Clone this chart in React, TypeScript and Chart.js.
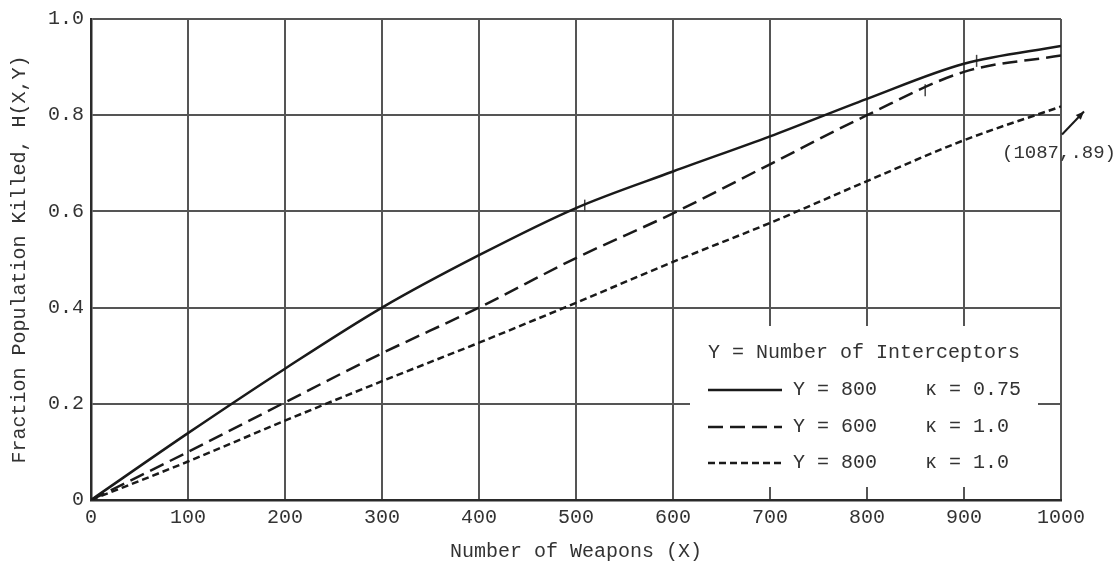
import { useEffect, useRef } from "react";
import { Chart, registerables } from "chart.js";

Chart.register(...registerables);

// ---- data ----
const weapons = [0, 100, 200, 300, 400, 500, 600, 700, 800, 900, 1000];
const killedY800k075 = [0, 0.139, 0.273, 0.4, 0.509, 0.607, 0.683, 0.756, 0.834, 0.907, 0.944];
const killedY600k10 = [0, 0.1, 0.203, 0.305, 0.4, 0.503, 0.596, 0.698, 0.8, 0.89, 0.924];
const killedY800k10 = [0, 0.08, 0.165, 0.247, 0.327, 0.41, 0.495, 0.576, 0.663, 0.748, 0.818];
const seriesLabels = ["Y = 800", "Y = 600", "Y = 800"];
const kappaLabels = ["\u03ba = 0.75", "\u03ba = 1.0", "\u03ba = 1.0"];
const seriesDash: number[][] = [[], [15, 7], [7, 4]];
const legendTitle = "Y = Number of Interceptors";
const xTitle = "Number of Weapons (X)";
const yTitle = "Fraction Population Killed, H(X,Y)";
const markX = [509, 860, 913];
const markY = [0.612, 0.852, 0.913];
const noteText = "(1087,.89)";
const xTicks = [0, 100, 200, 300, 400, 500, 600, 700, 800, 900, 1000];
const yTicks = [0, 0.2, 0.4, 0.6, 0.8, 1.0];

const FONT = "'Liberation Mono', 'DejaVu Sans Mono', monospace";
const INK = "#1a1a1a";
const TEXT = "#333333";
const GRID = "#555555";

const overlayPlugin = {
  id: "overlay",
  afterDraw(chart: any) {
    const { ctx, chartArea, scales } = chart;
    const xs = scales.x;
    const ys = scales.y;
    ctx.save();
    // legend box (covers the grid)
    const right = chartArea.right - 23;
    const bottom = chartArea.bottom - 13;
    const w = 348;
    const h = 161;
    const left = right - w;
    const top = bottom - h;
    ctx.fillStyle = "#ffffff";
    ctx.fillRect(left, top, w, h);
    ctx.font = `20px ${FONT}`;
    ctx.fillStyle = TEXT;
    ctx.textBaseline = "middle";
    ctx.textAlign = "left";
    ctx.fillText(legendTitle, left + 18, top + 27);
    const rowY = [top + 64, top + 101, top + 137];
    for (let i = 0; i < seriesLabels.length; i++) {
      ctx.strokeStyle = INK;
      ctx.lineWidth = 2.5;
      ctx.setLineDash(seriesDash[i]);
      ctx.beginPath();
      ctx.moveTo(left + 18, rowY[i]);
      ctx.lineTo(left + 92, rowY[i]);
      ctx.stroke();
      ctx.setLineDash([]);
      ctx.fillText(seriesLabels[i], left + 103, rowY[i]);
      ctx.fillText(kappaLabels[i], left + 235, rowY[i]);
    }
    // off-scale note with arrow
    const ax = xs.getPixelForValue(1000) + 1;
    const ay = ys.getPixelForValue(0.76);
    const bx = ax + 22;
    const by = ay - 23;
    ctx.strokeStyle = INK;
    ctx.lineWidth = 2;
    ctx.beginPath();
    ctx.moveTo(ax, ay);
    ctx.lineTo(bx, by);
    ctx.stroke();
    const ang = Math.atan2(by - ay, bx - ax);
    ctx.fillStyle = INK;
    ctx.beginPath();
    ctx.moveTo(bx, by);
    ctx.lineTo(bx - 9 * Math.cos(ang - 0.4), by - 9 * Math.sin(ang - 0.4));
    ctx.lineTo(bx - 9 * Math.cos(ang + 0.4), by - 9 * Math.sin(ang + 0.4));
    ctx.closePath();
    ctx.fill();
    ctx.fillStyle = TEXT;
    ctx.textAlign = "center";
    ctx.font = `19px ${FONT}`;
    ctx.fillText(noteText, ax - 3, ay + 19);
    ctx.restore();
  },
};

export default function App() {
  const ref = useRef<HTMLCanvasElement | null>(null);
  useEffect(() => {
    document.body.style.margin = "0";
    const canvas = ref.current;
    if (!canvas) return;
    const mk = (vals: number[]) => weapons.map((x, i) => ({ x, y: vals[i] }));
    const chart = new Chart(canvas, {
      type: "line",
      data: {
        datasets: [
          {
            label: seriesLabels[0],
            data: mk(killedY800k075),
            borderColor: INK,
            borderWidth: 2.5,
            borderDash: seriesDash[0],
            pointRadius: 0,
            cubicInterpolationMode: "monotone",
          },
          {
            label: seriesLabels[1],
            data: mk(killedY600k10),
            borderColor: INK,
            borderWidth: 2.5,
            borderDash: seriesDash[1],
            pointRadius: 0,
            cubicInterpolationMode: "monotone",
          },
          {
            label: seriesLabels[2],
            data: mk(killedY800k10),
            borderColor: INK,
            borderWidth: 2.5,
            borderDash: seriesDash[2],
            pointRadius: 0,
            cubicInterpolationMode: "monotone",
          },
          {
            label: "marks",
            data: markX.map((x, i) => ({ x, y: markY[i] })),
            showLine: false,
            pointStyle: "line",
            rotation: 90,
            pointRadius: 6,
            pointBorderWidth: 1.5,
            pointBorderColor: "#444",
            borderColor: "#444",
          } as any,
        ],
      },
      options: {
        responsive: false,
        animation: false,
        layout: { padding: { left: 0, top: 17, right: 58, bottom: 0 } },
        plugins: { legend: { display: false }, tooltip: { enabled: false } },
        scales: {
          x: {
            type: "linear",
            min: 0,
            max: 1000,
            afterBuildTicks: (s: any) => {
              s.ticks = xTicks.map((v) => ({ value: v }));
            },
            afterFit: (s: any) => {
              s.height = 66;
            },
            grid: { color: GRID, lineWidth: 2, drawTicks: false },
            border: { color: "#2a2a2a", width: 2.5 },
            ticks: {
              padding: 6,
              color: TEXT,
              font: { family: FONT, size: 20 },
              maxRotation: 0,
              callback: (v: any) => String(v),
            },
            title: {
              display: true,
              text: xTitle,
              color: TEXT,
              font: { family: FONT, size: 20 },
              padding: { top: 0, bottom: 2 },
            },
          },
          y: {
            type: "linear",
            min: 0,
            max: 1,
            afterBuildTicks: (s: any) => {
              s.ticks = yTicks.map((v) => ({ value: v }));
            },
            afterFit: (s: any) => {
              s.width = 91;
            },
            grid: { color: GRID, lineWidth: 2, drawTicks: false },
            border: { color: "#2a2a2a", width: 2.5 },
            ticks: {
              padding: 7,
              color: TEXT,
              font: { family: FONT, size: 20 },
              callback: (v: any) => (v === 0 ? "0" : Number(v).toFixed(1)),
            },
            title: {
              display: true,
              text: yTitle,
              color: TEXT,
              font: { family: FONT, size: 20 },
              padding: { top: 8, bottom: 0 },
            },
          },
        },
      },
      plugins: [overlayPlugin],
    } as any);
    return () => chart.destroy();
  }, []);
  return (
    <div style={{ width: 1119, height: 566, background: "#fff" }}>
      <canvas ref={ref} width={1119} height={566} style={{ display: "block" }} />
    </div>
  );
}
